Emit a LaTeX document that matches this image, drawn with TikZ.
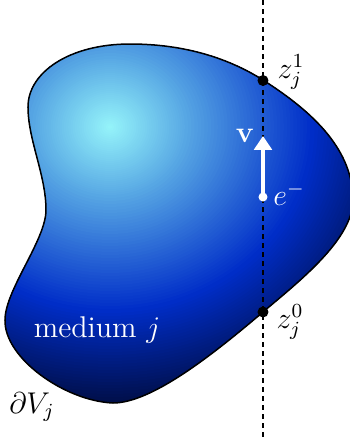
\documentclass[tikz,border=0pt]{standalone}
\usetikzlibrary{arrows.meta}
\definecolor{cLight}{RGB}{150,245,250}
\definecolor{cSky}{RGB}{88,168,228}
\definecolor{cBlue}{RGB}{0,45,200}
\definecolor{cNavy}{RGB}{0,12,62}
\tikzset{
  blob/.style={draw=black, line width=0.6pt},
  guide/.style={draw=black, line width=0.7pt, dash pattern=on 2pt off 1.6pt},
  blackdot/.style={circle, fill=black, inner sep=0pt, minimum size=4.4pt},
  whitedot/.style={circle, fill=white, inner sep=0pt, minimum size=3.6pt},
  lbl/.style={font=\large, inner sep=0pt},
}
\def\blobpath{(28,107) .. controls (28,72) and (70,44) .. (130,44)
 .. controls (180,44) and (225,56) .. (263,80)
 .. controls (305,107) and (353,145) .. (353,200)
 .. controls (353,240) and (297,283) .. (263,312)
 .. controls (217,351) and (153,403) .. (113,403)
 .. controls (65,401) and (4,358) .. (5,320)
 .. controls (5,290) and (46,240) .. (46,210)
 .. controls (46,175) and (28,140) .. (28,107) -- cycle}
\begin{document}
\begin{tikzpicture}[x=0.4pt, y=-0.4pt]
\useasboundingbox (0,0) rectangle (350,442);
\coordinate (hl) at (110,127);
\begin{scope}
\clip \blobpath;
\fill[cNavy] (hl) circle[radius=500];
\foreach \r in {285,282,...,185} {
  \pgfmathsetmacro\p{100*(\r-185)/100}
  \fill[cNavy!\p!cBlue] (hl) circle[x radius=1.1*\r, y radius=\r];
}
\foreach \r in {182,179,...,70} {
  \pgfmathsetmacro\p{100*(\r-70)/115}
  \fill[cBlue!\p!cSky] (hl) circle[x radius=1.1*\r, y radius=\r];
}
\foreach \r in {68,66,...,1} {
  \pgfmathsetmacro\p{100*\r/70}
  \fill[cSky!\p!cLight] (hl) circle[x radius=1.1*\r, y radius=\r];
}
\end{scope}
\draw[blob] \blobpath;
\coordinate (top) at (263,0);
\coordinate (bot) at (263,440);
\draw[guide] (top) -- (bot);
\node[blackdot] (z1) at (263,80.5) {};
\node[blackdot] (z0) at (263,312) {};
\node[whitedot] (e) at (263,197) {};
\coordinate (tip) at (263,136);
\draw[white, line width=1.3pt, -{Triangle[width=7pt,length=5.5pt]}] (e.center) -- (tip);
\node[lbl, white] (v) at (245,136) {$\mathbf{v}$};
\node[lbl, white, anchor=west] (elab) at (273,194) {$e^-$};
\node[lbl] (z1l) at (291,72) {$z_j^1$};
\node[lbl] (z0l) at (290,322) {$z_j^0$};
\node[lbl, white] (med) at (97,330) {medium $j$};
\node[lbl] (dv) at (32,407) {$\partial V_j$};
\end{tikzpicture}
\end{document}
